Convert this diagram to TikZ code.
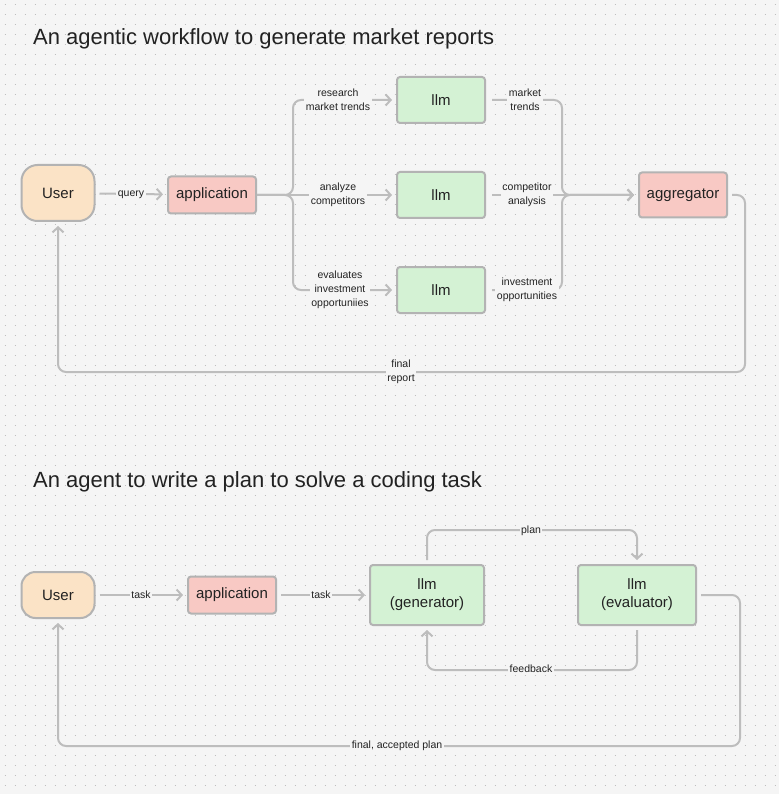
\documentclass[tikz,border=0pt]{standalone}
\usepackage{fontspec}
\setmainfont{Liberation Sans}
\usetikzlibrary{arrows.meta}
\definecolor{bg}{HTML}{F5F5F5}
\definecolor{dotc}{HTML}{BDBDBD}
\definecolor{linec}{HTML}{BDBDBD}
\definecolor{edgec}{HTML}{B3B3B3}
\definecolor{userc}{HTML}{FBE3C6}
\definecolor{appc}{HTML}{F8C9C4}
\definecolor{llmc}{HTML}{D4F2D4}
\definecolor{textc}{HTML}{222222}

\tikzset{
  box/.style={draw=edgec, line width=2pt, rounded corners=3pt, inner sep=0pt,
    text=textc, align=center, font=\fontsize{15}{18}\selectfont},
  usernode/.style={box, fill=userc, rounded corners=16pt, minimum width=73pt, minimum height=56pt},
  appnode/.style={box, fill=appc, minimum width=88pt, minimum height=37pt},
  llmnode/.style={box, fill=llmc, minimum width=88pt, minimum height=46pt},
  lbl/.style={fill=bg, inner sep=1.5pt, align=center, text=textc,
    font=\fontsize{10.5}{14}\selectfont},
  line/.style={draw=linec, line width=2pt, rounded corners=8pt},
  arr/.style={line, -{Straight Barb[length=5pt,width=11pt,line width=2pt]}},
  title/.style={anchor=base west, inner sep=0pt, text=textc, font=\fontsize{22}{26}\selectfont}
}

\begin{document}
\begin{tikzpicture}[x=1pt,y=-1pt]
  % canvas and dotted grid
  \fill[bg] (0,0) rectangle (779,794);
  \useasboundingbox (0,0) rectangle (779,794);
  \foreach \y in {5,15,...,795}
    \draw[dotc, line width=1pt, dash pattern=on 1pt off 9pt] (4.5,\y) -- (779,\y);

  % workflow for market reports
  \node[title] (t1) at (33,45) {An agentic workflow to generate market reports};

  \node[usernode] (user) at (58,193) {User};
  \node[appnode] (app) at (212,195) {application};
  \node[llmnode] (llmA) at (441,100) {llm};
  \node[llmnode] (llmB) at (441,195) {llm};
  \node[llmnode] (llmC) at (441,290) {llm};
  \node[appnode, minimum height=45pt] (agg) at (683,195) {aggregator};

  \draw[arr, shorten <=4pt, shorten >=4pt] (user) -- (app);
  \draw[arr, shorten >=4pt] (app.east) -| (293,100) -- (llmA.west);
  \draw[arr, shorten >=4pt] (app.east) -- (llmB.west);
  \draw[arr, shorten >=4pt] (app.east) -| (293,290) -- (llmC.west);
  \draw[arr, shorten <=6pt, shorten >=4pt] (llmA.east) -| (562,195) -- (agg.west);
  \draw[arr, shorten <=6pt, shorten >=4pt] (llmB.east) -- (agg.west);
  \draw[arr, shorten <=6pt, shorten >=4pt] (llmC.east) -| (562,195) -- (agg.west);
  \draw[arr, shorten <=4pt, shorten >=4pt] (agg.east) -| (745,372) -| (user.south);

  \node[lbl] (query) at (131,195) {query};
  \node[lbl] (resA) at (338,100) {research\\market trends};
  \node[lbl] (resB) at (338,195) {analyze\\competitors};
  \node[lbl] (resC) at (340,290) {evaluates\\investment\\opportuniies};
  \node[lbl] (outA) at (525,100) {market\\trends};
  \node[lbl] (outB) at (527,195) {competitor\\analysis};
  \node[lbl] (outC) at (527,290) {investment\\opportunities};
  \node[lbl] (report) at (401,372) {final\\report};

  % agent for coding plan
  \node[title] (t2) at (33,487) {An agent to write a plan to solve a coding task};

  \node[usernode, minimum height=46pt, rounded corners=14pt] (user2) at (58,595) {User};
  \node[appnode] (app2) at (232,595) {application};
  \node[llmnode, minimum width=114pt, minimum height=60pt] (gen) at (427,595) {llm\\(generator)};
  \node[llmnode, minimum width=118pt, minimum height=60pt] (eval) at (637,595) {llm\\(evaluator)};

  \draw[arr, shorten <=4pt, shorten >=4pt] (user2) -- (app2);
  \draw[arr, shorten <=4pt, shorten >=4pt] (app2) -- (gen);
  \draw[arr, shorten <=4pt, shorten >=4pt] (gen.north) -- ++(0,-34) -| (eval.north);
  \draw[arr, shorten <=4pt, shorten >=4pt] (eval.south) -- ++(0,44) -| (gen.south);
  \draw[arr, shorten <=4pt, shorten >=4pt] (eval.east) -| (740,746) -| (user2.south);

  \node[lbl] (task1) at (141,595) {task};
  \node[lbl] (task2) at (321,595) {task};
  \node[lbl] (plan) at (531,531) {plan};
  \node[lbl] (fb) at (531,669) {feedback};
  \node[lbl] (final) at (397,746) {final, accepted plan};
\end{tikzpicture}
\end{document}
